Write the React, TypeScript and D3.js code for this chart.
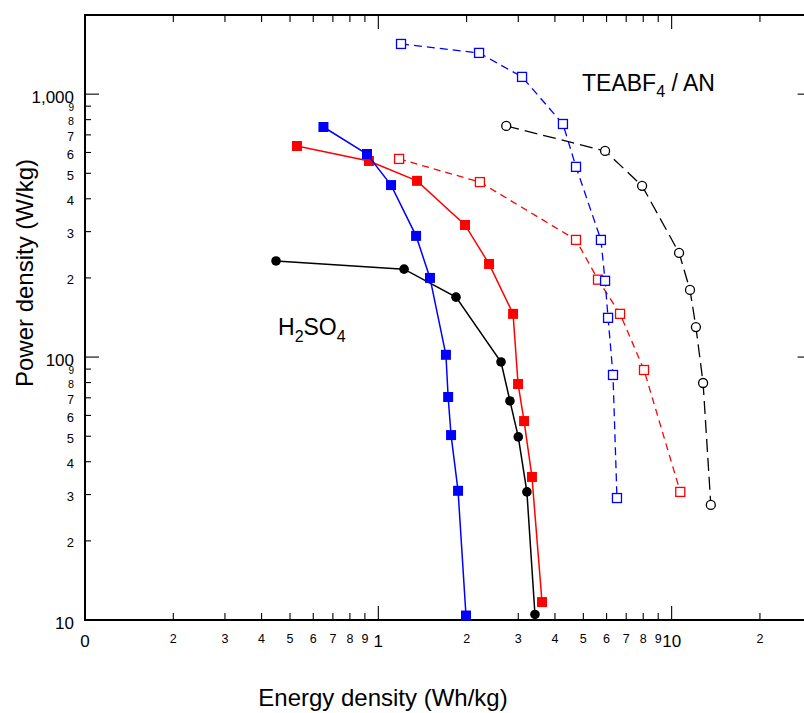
import React from "react";
import * as d3 from "d3";

// ---- data (energy density Wh/kg, power density W/kg) ----
const h2so4BlueE = [0.65, 0.915, 1.105, 1.345, 1.5, 1.7, 1.73, 1.77, 1.87, 1.99];
const h2so4BlueP = [750, 592, 451, 289, 200, 102, 70.5, 50.5, 31, 10.4];

const h2so4RedE = [0.528, 0.929, 1.355, 1.975, 2.385, 2.88, 2.995, 3.14, 3.34, 3.615];
const h2so4RedP = [635, 557, 468, 318, 226, 146, 79, 57.1, 35, 11.7];

const h2so4BlackE = [0.448, 1.224, 1.84, 2.62, 2.81, 3.0, 3.21, 3.42];
const h2so4BlackP = [232, 216, 169, 95.8, 68.1, 49.7, 30.7, 10.5];

const anBlueE = [1.195, 2.205, 3.09, 4.26, 4.72, 5.74, 5.93, 6.07, 6.31, 6.51];
const anBlueP = [1552, 1435, 1163, 770, 529, 279, 195, 141, 85.5, 29.1];

const anRedE = [1.177, 2.22, 4.72, 5.61, 6.67, 8.05, 10.7];
const anRedP = [567, 463, 279, 197, 146, 89.3, 30.7];

const anBlackE = [2.73, 5.93, 7.93, 10.6, 11.55, 12.1, 12.8, 13.6];
const anBlackP = [757, 608, 448, 249, 180, 130, 79.7, 27.4];

const xMajorTicks = [0.1, 1, 10];
const xMajorLabels = ["0", "1", "10"];
const xMinorTicks = [0.2, 0.3, 0.4, 0.5, 0.6, 0.7, 0.8, 0.9, 2, 3, 4, 5, 6, 7, 8, 9, 20];
const xMinorLabels = ["2", "3", "4", "5", "6", "7", "8", "9", "2", "3", "4", "5", "6", "7", "8", "9", "2"];

const yMajorTicks = [10, 100, 1000];
const yMajorLabels = ["10", "100", "1,000"];
const yMinorTicks = [20, 30, 40, 50, 60, 70, 80, 90, 200, 300, 400, 500, 600, 700, 800, 900];
const yMinorLabels = ["2", "3", "4", "5", "6", "7", "8", "9", "2", "3", "4", "5", "6", "7", "8", "9"];

const xTitle = "Energy density (Wh/kg)";
const yTitle = "Power density (W/kg)";

type Series = {
  e: number[];
  p: number[];
  color: string;
  dash: string | null;
  marker: "square" | "circle";
  filled: boolean;
};

const series: Series[] = [
  { e: anRedE, p: anRedP, color: "#ff0000", dash: "7,5", marker: "square", filled: false },
  { e: anBlueE, p: anBlueP, color: "#0000ff", dash: "8,5", marker: "square", filled: false },
  { e: anBlackE, p: anBlackP, color: "#000000", dash: "13,6", marker: "circle", filled: false },
  { e: h2so4BlackE, p: h2so4BlackP, color: "#000000", dash: null, marker: "circle", filled: true },
  { e: h2so4RedE, p: h2so4RedP, color: "#ff0000", dash: null, marker: "square", filled: true },
  { e: h2so4BlueE, p: h2so4BlueP, color: "#0000ff", dash: null, marker: "square", filled: true },
];

const W = 804;
const H = 713;
const L = 85;
const R = 811.6;
const T = 15;
const B = 620;

export default function App() {
  const x = d3.scaleLog().domain([0.1, 30]).range([L, R]);
  const y = d3.scaleLog().domain([10, 2000]).range([B, T]);
  const line = d3
    .line<[number, number]>()
    .x((d) => x(d[0]))
    .y((d) => y(d[1]));
  const font = "'Liberation Sans', Arial, Helvetica, sans-serif";
  // minor label size shrinks where ticks crowd together
  const minorSize = (t: number) => {
    const gap = y(t) - y(t + Math.pow(10, Math.floor(Math.log10(t))));
    return Math.max(10, Math.min(13, gap * 0.8));
  };

  return (
    <svg
      width={W}
      height={H}
      style={{ position: "absolute", left: 0, top: 0, display: "block", background: "#fff" }}
      fontFamily={font}
    >
      <rect x={0} y={0} width={W} height={H} fill="#fff" />
      {/* ticks */}
      <g stroke="#000" strokeWidth={1.1}>
        {xMajorTicks.map((t, i) => (
          <g key={"xM" + i}>
            <line x1={x(t)} x2={x(t)} y1={B} y2={B - 14} />
            <line x1={x(t)} x2={x(t)} y1={T} y2={T + 14} />
          </g>
        ))}
        {xMinorTicks.map((t, i) => (
          <g key={"xm" + i}>
            <line x1={x(t)} x2={x(t)} y1={B} y2={B - 7} />
            <line x1={x(t)} x2={x(t)} y1={T} y2={T + 7} />
          </g>
        ))}
        {yMajorTicks.map((t, i) => (
          <g key={"yM" + i}>
            <line x1={L} x2={L + 14} y1={y(t)} y2={y(t)} />
            <line x1={R} x2={R - 14} y1={y(t)} y2={y(t)} />
          </g>
        ))}
        {yMinorTicks.map((t, i) => (
          <g key={"ym" + i}>
            <line x1={L} x2={L + 6} y1={y(t)} y2={y(t)} />
            <line x1={R} x2={R - 6} y1={y(t)} y2={y(t)} />
          </g>
        ))}
      </g>
      {/* frame */}
      <rect x={L} y={T} width={R - L} height={B - T} fill="none" stroke="#000" strokeWidth={2} />

      {/* tick labels */}
      <g fill="#000">
        {xMajorTicks.map((t, i) => (
          <text key={"xl" + i} x={x(t)} y={647} fontSize={17} textAnchor="middle">
            {xMajorLabels[i]}
          </text>
        ))}
        {xMinorTicks.map((t, i) => (
          <text key={"xml" + i} x={x(t)} y={643} fontSize={12.5} textAnchor="middle">
            {xMinorLabels[i]}
          </text>
        ))}
        {yMajorTicks.map((t, i) => (
          <text key={"yl" + i} x={74} y={y(t) + 9} fontSize={17} textAnchor="end">
            {yMajorLabels[i]}
          </text>
        ))}
        {yMinorTicks.map((t, i) => {
          const fs = minorSize(t);
          return (
            <text key={"yml" + i} x={74} y={y(t) + fs * 0.5} fontSize={fs} textAnchor="end">
              {yMinorLabels[i]}
            </text>
          );
        })}
      </g>

      {/* series */}
      {series.map((s, si) => {
        const pts = s.e.map((v, i) => [v, s.p[i]] as [number, number]);
        return (
          <g key={"s" + si}>
            <path
              d={line(pts) || ""}
              fill="none"
              stroke={s.color}
              strokeWidth={s.dash ? 1.3 : 1.5}
              strokeDasharray={s.dash || undefined}
            />
            {pts.map((d, i) =>
              s.marker === "square" ? (
                s.filled ? (
                  <rect key={i} x={x(d[0]) - 5} y={y(d[1]) - 5} width={10} height={10} fill={s.color} />
                ) : (
                  <rect
                    key={i}
                    x={x(d[0]) - 4.5}
                    y={y(d[1]) - 4.5}
                    width={9}
                    height={9}
                    fill="#fff"
                    stroke={s.color}
                    strokeWidth={1.3}
                  />
                )
              ) : s.filled ? (
                <circle key={i} cx={x(d[0])} cy={y(d[1])} r={4.8} fill={s.color} />
              ) : (
                <circle key={i} cx={x(d[0])} cy={y(d[1])} r={4.5} fill="#fff" stroke={s.color} strokeWidth={1.3} />
              )
            )}
          </g>
        );
      })}

      {/* annotations */}
      <text x={582} y={91} fontSize={23} fill="#000">
        TEABF<tspan fontSize={16} dy={6}>4</tspan>
        <tspan dy={-6}> / AN</tspan>
      </text>
      <text x={278} y={335} fontSize={23} fill="#000">
        H<tspan fontSize={16} dy={7}>2</tspan>
        <tspan dy={-7}>SO</tspan>
        <tspan fontSize={16} dy={7}>4</tspan>
      </text>

      {/* axis titles */}
      <text x={383} y={706} fontSize={24} textAnchor="middle" fill="#000">
        {xTitle}
      </text>
      <text
        transform={`translate(33,273) rotate(-90)`}
        fontSize={24}
        textAnchor="middle"
        fill="#000"
      >
        {yTitle}
      </text>
    </svg>
  );
}
